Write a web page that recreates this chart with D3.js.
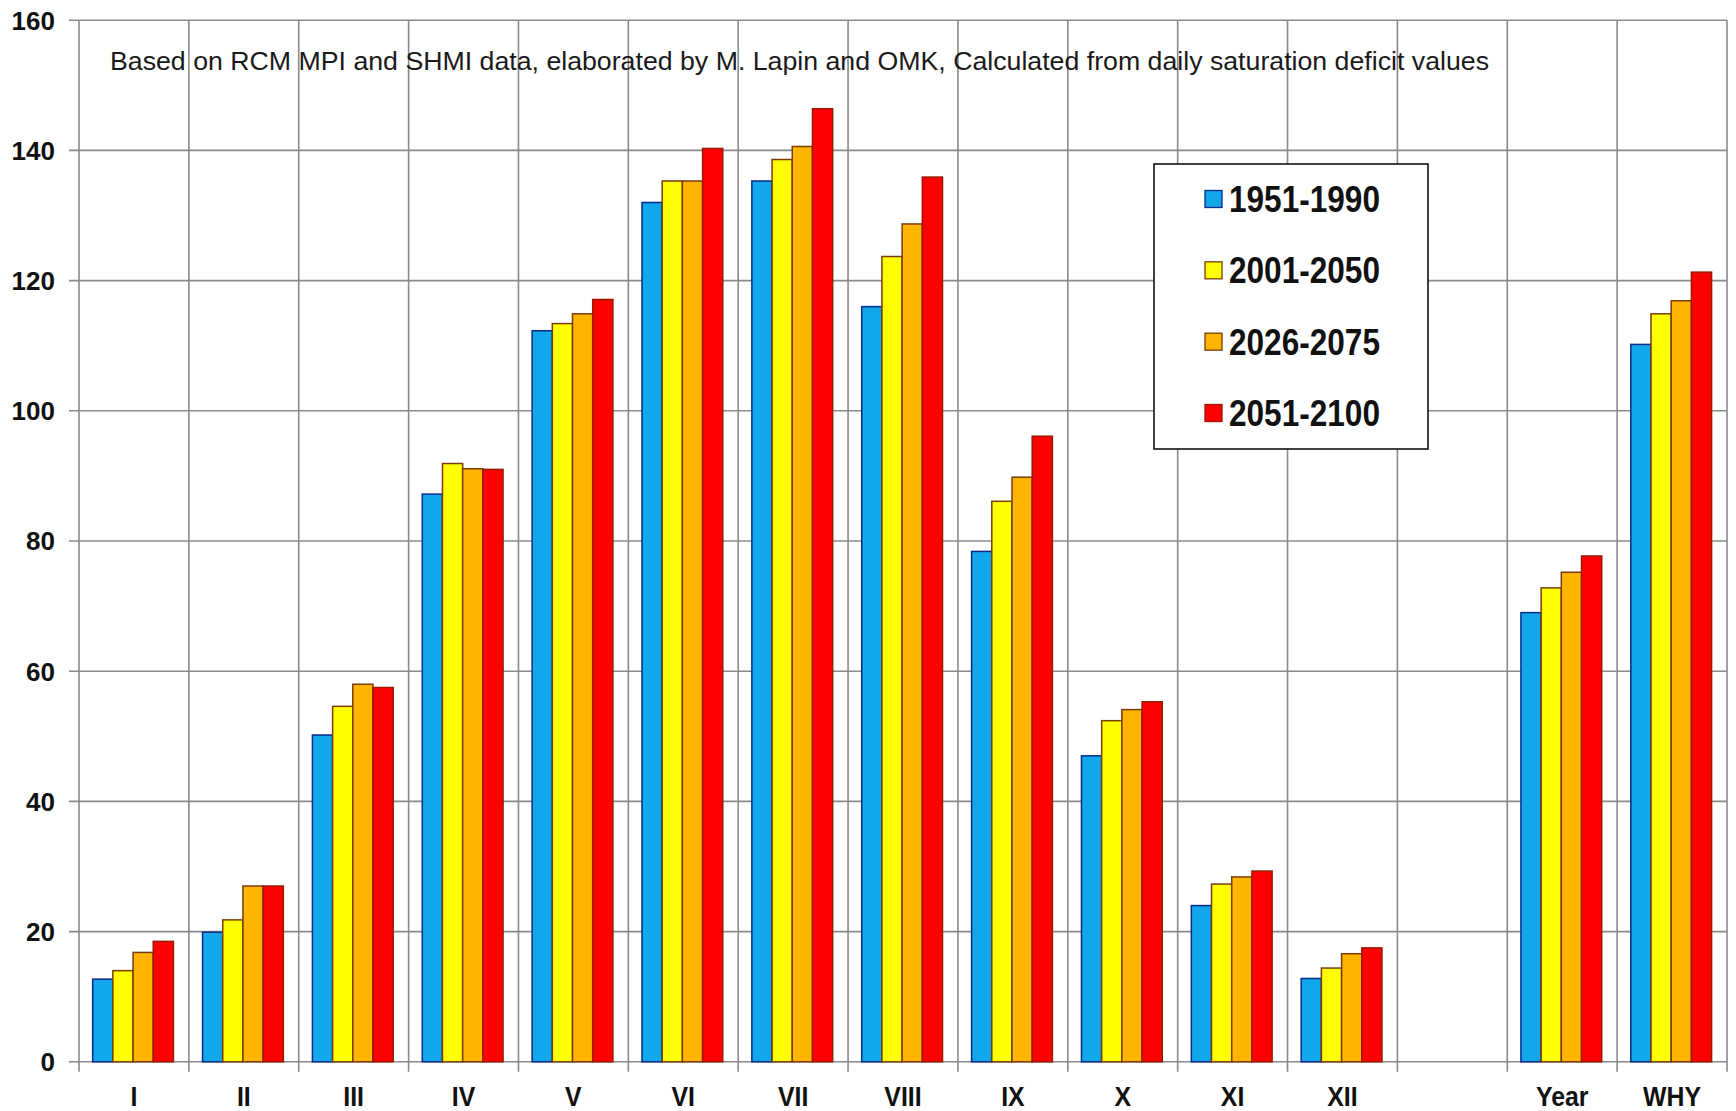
<!DOCTYPE html>
<html>
<head>
<meta charset="utf-8">
<script src="https://cdn.jsdelivr.net/npm/d3@7"></script>
<style>
  html, body { margin: 0; padding: 0; background: #fff; }
  svg { display: block; font-family: Arial, "Liberation Sans", sans-serif; }
</style>
</head>
<body>
<svg id="chart" width="1736" height="1111"></svg>
<script>
// Category slots along the x axis (blank slot separates months from summaries)
const categories = ["I", "II", "III", "IV", "V", "VI", "VII", "VIII", "IX", "X", "XI", "XII", "", "Year", "WHY"];

// Series (periods)
const seriesNames = ["1951-1990", "2001-2050", "2026-2075", "2051-2100"];

// Values per period, one per category slot (null = empty slot)
const s1951_1990 = [12.7, 19.9, 50.2, 87.2, 112.3, 132.0, 135.3, 116.0, 78.4, 47.0, 24.0, 12.8, null, 69.0, 110.2];
const s2001_2050 = [14.0, 21.8, 54.6, 91.9, 113.4, 135.3, 138.6, 123.7, 86.1, 52.4, 27.3, 14.4, null, 72.8, 114.9];
const s2026_2075 = [16.8, 27.0, 58.0, 91.1, 114.9, 135.3, 140.6, 128.7, 89.8, 54.1, 28.4, 16.6, null, 75.2, 116.9];
const s2051_2100 = [18.5, 27.0, 57.5, 91.0, 117.1, 140.3, 146.4, 135.9, 96.1, 55.3, 29.3, 17.5, null, 77.7, 121.3];

const yTicks = [0, 20, 40, 60, 80, 100, 120, 140, 160];

const subtitle = "Based on RCM  MPI and SHMI  data, elaborated  by M. Lapin  and OMK, Calculated  from daily saturation  deficit values";

const fills = ["#12A6EA", "#FFFF00", "#FFB400", "#FF0000"];
const strokes = ["#0A2A8A", "#7A3C08", "#7A3C08", "#9A1A00"];

const seriesValues = [s1951_1990, s2001_2050, s2026_2075, s2051_2100];

const svg = d3.select("#chart");

const plot = { left: 79, right: 1727, top: 20.2, bottom: 1061.8 };

const x0 = d3.scaleBand()
  .domain(categories.map((c, i) => i))
  .range([plot.left, plot.right])
  .padding(0);

const x1 = d3.scaleBand()
  .domain(seriesNames)
  .range([0, x0.bandwidth()])
  .paddingInner(0)
  .paddingOuter(0.72)
  .align(0.47);

const y = d3.scaleLinear().domain([0, 160]).range([plot.bottom, plot.top]);

const gridColor = "#8a8a8a";

// Horizontal gridlines with short ticks to the left of the axis
svg.append("g").selectAll("line")
  .data(yTicks)
  .join("line")
  .attr("x1", plot.left - 10)
  .attr("x2", plot.right)
  .attr("y1", d => y(d))
  .attr("y2", d => y(d))
  .attr("stroke", gridColor)
  .attr("stroke-width", 1.6);

// Vertical gridlines at category boundaries, extending below the zero line
const boundaries = d3.range(categories.length + 1).map(i =>
  i < categories.length ? x0(i) : x0(categories.length - 1) + x0.bandwidth());
svg.append("g").selectAll("line")
  .data(boundaries)
  .join("line")
  .attr("x1", d => d)
  .attr("x2", d => d)
  .attr("y1", plot.top)
  .attr("y2", plot.bottom + 10)
  .attr("stroke", gridColor)
  .attr("stroke-width", 1.6);

// Y tick labels
svg.append("g").selectAll("text")
  .data(yTicks)
  .join("text")
  .attr("x", 55)
  .attr("y", d => y(d))
  .attr("dy", "0.36em")
  .attr("text-anchor", "end")
  .attr("font-size", 26)
  .attr("font-weight", "bold")
  .attr("fill", "#111")
  .text(d => d);

// X category labels
svg.append("g").selectAll("text")
  .data(categories.map((c, i) => ({ c, i })).filter(d => d.c !== ""))
  .join("text")
  .attr("x", d => x0(d.i) + x0.bandwidth() / 2)
  .attr("y", 1106)
  .attr("text-anchor", "middle")
  .attr("font-size", 27)
  .attr("font-weight", "bold")
  .attr("fill", "#111")
  .attr("transform", d => {
    const cx = x0(d.i) + x0.bandwidth() / 2;
    return `translate(${cx},0) scale(0.92,1) translate(${-cx},0)`;
  })
  .text(d => d.c);

// Bars
const bars = svg.append("g");
seriesNames.forEach((name, si) => {
  const rows = seriesValues[si]
    .map((v, i) => ({ v, i }))
    .filter(d => d.v !== null);
  bars.append("g")
    .selectAll("rect")
    .data(rows)
    .join("rect")
    .attr("x", d => x0(d.i) + x1(name))
    .attr("width", x1.bandwidth())
    .attr("y", d => y(d.v))
    .attr("height", d => y(0) - y(d.v))
    .attr("fill", fills[si])
    .attr("stroke", strokes[si])
    .attr("stroke-width", 1.5);
});

// Subtitle inside plot area
svg.append("text")
  .attr("x", 110)
  .attr("y", 70)
  .attr("font-size", 26)
  .attr("fill", "#1a1a1a")
  .attr("textLength", 1379)
  .attr("lengthAdjust", "spacingAndGlyphs")
  .text(subtitle);

// Legend
const legend = svg.append("g");
legend.append("rect")
  .attr("x", 1154)
  .attr("y", 164)
  .attr("width", 274)
  .attr("height", 285)
  .attr("fill", "#fff")
  .attr("stroke", "#111")
  .attr("stroke-width", 1.6);

const rowY = d3.scalePoint().domain(seriesNames).range([199, 413]);
const items = legend.selectAll("g.item")
  .data(seriesNames)
  .join("g")
  .attr("class", "item");
items.append("rect")
  .attr("x", 1205)
  .attr("y", d => rowY(d) - 8.5)
  .attr("width", 17)
  .attr("height", 17)
  .attr("fill", (d, i) => fills[i])
  .attr("stroke", (d, i) => strokes[i])
  .attr("stroke-width", 1.3);
items.append("text")
  .attr("x", 1229)
  .attr("y", d => rowY(d) + 13)
  .attr("font-size", 37)
  .attr("font-weight", "bold")
  .attr("fill", "#111")
  .attr("textLength", 151)
  .attr("lengthAdjust", "spacingAndGlyphs")
  .text(d => d);
</script>
</body>
</html>
